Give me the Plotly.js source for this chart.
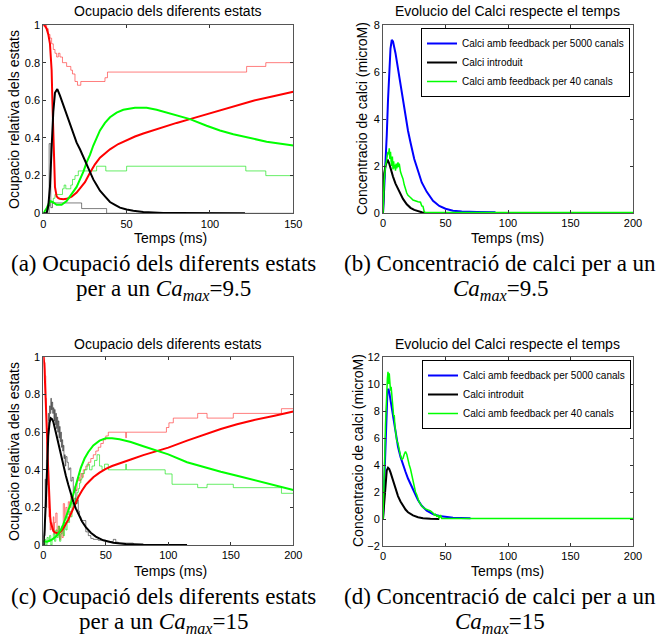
<!DOCTYPE html>
<html><head><meta charset="utf-8">
<script src="https://cdn.plot.ly/plotly-3.0.1.min.js"></script>
<style>html,body{margin:0;padding:0;background:#fff}#chart{width:670px;height:640px}</style>
</head><body><div id="chart"></div>
<script>
// ---------- (a) Ocupacio, Ca_max = 9.5 ----------
const aRedT = [0,1,2,3,4,5,5.5,6,6.5,7,8,9,10,12,14,17,20,22,25,28,31,34,37,40,45,50,55,60,66,72,80,88,95,105,115,126,138,150];
const aRedV = [1,0.995,0.98,0.95,0.9,0.76,0.58,0.38,0.22,0.14,0.09,0.08,0.077,0.075,0.077,0.088,0.11,0.13,0.165,0.215,0.26,0.295,0.32,0.34,0.368,0.39,0.408,0.424,0.442,0.46,0.48,0.5,0.518,0.545,0.572,0.598,0.622,0.645];
const aGreenT = [0,2,4,5.5,8,11,14,17,20,22,24,26,28,30,32,34,37,40,44,48,55,62,68,74,80,88,98,106,114,126,134,150];
const aGreenV = [0,0.027,0.065,0.06,0.045,0.045,0.065,0.1,0.14,0.18,0.22,0.27,0.31,0.36,0.4,0.44,0.48,0.51,0.535,0.55,0.56,0.56,0.55,0.535,0.52,0.5,0.465,0.44,0.42,0.395,0.38,0.36];
const aBlackT = [0,2,3,4,5,6,7,8.4,10,12,14,16,18,20,22,24,26,28,30,32,34,37,40,43,46,50,54,60,66,72,80,95,121];
const aBlackV = [0,0,0.04,0.14,0.35,0.54,0.64,0.66,0.625,0.575,0.52,0.465,0.415,0.375,0.34,0.3,0.26,0.22,0.18,0.15,0.12,0.09,0.06,0.045,0.03,0.02,0.013,0.007,0.004,0.002,0.001,0,0];
const aRedStepT = [0,2,3,4,5,6,7,8,9,10,11.5,14,16.5,17.5,19,20.5,22.5,37,38.5,122,133.5,150];
const aRedStepV = [1,0.98,0.95,0.93,0.9,0.87,0.85,0.83,0.85,0.83,0.8,0.78,0.76,0.74,0.7,0.68,0.7,0.72,0.75,0.78,0.8,0.8];
const aGreenStepT = [0,2,3,4,6,7,11.5,12.5,13.5,16.5,17.5,19,21,32,37.5,50,121.5,133.5,150];
const aGreenStepV = [0,0.02,0.04,0.06,0.08,0.1,0.13,0.15,0.13,0.15,0.18,0.2,0.225,0.25,0.225,0.25,0.225,0.2,0.2];
const aGrayStepT = [0,3.5,4.5,5.5,23,38,150];
const aGrayStepV = [0,0.37,0.03,0.055,0.025,0,0];

// ---------- (b) Calci, Ca_max = 9.5 ----------
const bBlueT = [0,1,2,3,4,5,6,7,8,10,12,14,16,18,20,22,25,28,31,35,40,45,50,56,63,75,90];
const bBlueV = [0,1.0,2.2,3.3,4.8,6.2,7.0,7.37,7.3,6.8,6.1,5.4,4.7,4.1,3.5,3.0,2.3,1.8,1.3,0.9,0.52,0.3,0.18,0.1,0.06,0.04,0.03];
const bBlackT = [0,0.4,1,2,3,3.7,5,6,8,10,13,16,19,22,25,28,31,34];
const bBlackV = [0,1.2,1.7,2.0,2.2,2.27,2.1,1.9,1.55,1.25,0.9,0.6,0.37,0.22,0.13,0.07,0.03,0];
const bGreenT = [0,0.5,1,2,3,4,4.5,5,5.5,6,6.5,7,7.5,8,8.5,9,9.5,10,10.5,11,12,12.5,13,13.5,14,15,16,17,18,19,20,21,22,24,26,28,30,31,32,33,34,200];
const bGreenV = [0,0.8,1.4,2.0,2.3,2.6,2.5,2.75,2.3,2.6,2.2,2.0,2.4,1.85,2.2,1.9,2.05,1.8,2.1,1.9,2.15,1.95,2.1,1.85,1.75,1.6,1.45,1.2,1.0,0.85,0.75,0.72,0.66,0.55,0.5,0.48,0.46,0.3,0.28,0.05,0.02,0.02];

// ---------- (c) Ocupacio, Ca_max = 15 ----------
const cRedT = [0,0.5,1,1.5,2,2.5,3,3.5,4,4.5,5,5.5,6,7,8,9,10,11,12,13,14,16,18,20,22,25,28,31,34,37,40,45,50,55,61,70,80,92,100,115,130,142,155,168,185,200];
const cRedV = [1,0.98,0.93,0.86,0.77,0.68,0.58,0.47,0.37,0.28,0.2,0.15,0.12,0.09,0.075,0.068,0.064,0.063,0.064,0.067,0.072,0.088,0.11,0.135,0.165,0.21,0.255,0.29,0.32,0.34,0.36,0.385,0.405,0.42,0.435,0.455,0.478,0.5,0.518,0.555,0.59,0.617,0.642,0.664,0.688,0.71];
const cGreenT = [0,3,6,8,10,12,14,16,18,20,22,24,26,28,30,33,36,40,45,50,55,61,70,80,92,100,115,130,142,155,168,185,200];
const cGreenV = [0.02,0.018,0.025,0.033,0.044,0.06,0.08,0.11,0.145,0.18,0.22,0.27,0.32,0.365,0.41,0.46,0.495,0.53,0.555,0.568,0.568,0.562,0.548,0.525,0.5,0.482,0.44,0.41,0.39,0.368,0.346,0.32,0.293];
const cBlackT = [0,1,2,3,4,5,6,7,8,10,12,14,16,18,20,22,24,26,28,31,34,38,42,48,56,66,80,95,115];
const cBlackV = [0,0.08,0.22,0.42,0.58,0.65,0.675,0.67,0.655,0.6,0.54,0.48,0.42,0.37,0.32,0.27,0.23,0.195,0.165,0.125,0.095,0.065,0.045,0.025,0.012,0.005,0.001,0,0];
const cGrayStepT = [0,1,1.5,2,2.5,3,3.5,4,4.5,5,5.5,6,6.5,7,7.5,8,8.5,9,9.5,10,10.5,11,11.5,12,12.5,13,13.5,14,14.5,15,15.5,16,16.5,17,17.5,18,19,20,21,22,23,24,25,26,27,28,29,30,32,34,36,38,40,44,50,56,58,60,66,72,80];
const cGrayStepV = [0,0.05,0.35,0.2,0.45,0.55,0.62,0.7,0.66,0.74,0.7,0.78,0.72,0.76,0.7,0.73,0.66,0.72,0.64,0.7,0.62,0.68,0.6,0.66,0.57,0.63,0.55,0.6,0.52,0.56,0.5,0.53,0.46,0.48,0.42,0.47,0.44,0.4,0.41,0.34,0.36,0.28,0.3,0.22,0.24,0.18,0.15,0.13,0.13,0.07,0.05,0.035,0.03,0.025,0.018,0.03,0.015,0.01,0.01,0.005,0];
const cRedStepT = [0,1,1.5,2,2.5,3,3.5,4,4.5,5,5.5,6,7,8,8.5,9,10,11,12,13,14,15,16,17,18,19,20,21,22,23,24,25,26,27,28,29,30,31,32,34,36,38,40,42,44,46,48,50,52,66,66.4,98.5,100.5,104,123.5,131,152,190.5,200];
const cRedStepV = [1,0.97,0.9,0.78,0.6,0.45,0.32,0.2,0.15,0.19,0.08,0.12,0.08,0.15,0.06,0.12,0.17,0.05,0.1,0.03,0.08,0.04,0.22,0.14,0.2,0.16,0.23,0.2,0.26,0.23,0.28,0.31,0.29,0.34,0.36,0.34,0.38,0.36,0.4,0.42,0.44,0.46,0.48,0.5,0.52,0.54,0.56,0.58,0.6,0.57,0.6,0.625,0.65,0.675,0.7,0.675,0.7,0.725,0.725];
const cGreenStepT = [0,1,2,3,4,5,6,7,8,9,10,11,12,13,14,15,16,17,18,19,20,21,22,23,24,25,26,27,28,29,30,31,33,35,37,39,41,43,45,47,49,52,66,66.4,97.5,103,123.5,131,152,190.5,200];
const cGreenStepV = [0,0.03,0,0.04,0.02,0.05,0,0.03,0.06,0.02,0.08,0.04,0.1,0.02,0.06,0.1,0.05,0.12,0.08,0.15,0.12,0.18,0.15,0.22,0.2,0.25,0.22,0.28,0.3,0.33,0.35,0.38,0.4,0.43,0.4,0.42,0.45,0.48,0.42,0.4,0.43,0.4,0.43,0.4,0.378,0.323,0.305,0.323,0.305,0.275,0.275];

// ---------- (d) Calci, Ca_max = 15 ----------
const dBlueT = [0,0.5,1,1.5,2,2.5,3,3.5,4,4.5,5,6,7,8,9,10,11,12,14,16,18,20,22,25,28,31,35,40,45,50,56,62,70];
const dBlueV = [0,1.5,3.2,5,6.6,7.9,8.8,9.35,9.6,9.6,9.4,8.8,8.1,7.5,6.9,6.3,5.8,5.35,4.6,4.0,3.5,3.0,2.55,2.0,1.4,0.98,0.62,0.36,0.22,0.15,0.1,0.08,0.06];
const dBlackT = [0,1,2,3,4,5,6,8,10,12,14,16,18,20,24,28,32,38,45];
const dBlackV = [0,1.5,2.8,3.6,3.8,3.7,3.45,2.85,2.25,1.7,1.3,0.95,0.7,0.5,0.27,0.13,0.06,0.02,0];
const dGreenT = [0,0.5,1,1.5,2,2.5,3,3.5,4,4.5,5,5.5,6,6.5,7,7.5,8,8.5,9,9.5,10,11,12,13,14,15,16,17,18,19,20,21,22,23,24,25,26,27,28,29,30,32,34,36,38,40,41,42,43,44,45,46,47,50,200];
const dGreenV = [0,1.2,3.0,5.0,7.0,8.5,9.6,10.4,10.9,10.0,10.8,10.2,9.5,9.8,9.0,8.6,8.2,7.6,7.7,6.9,6.5,5.8,5.6,5.0,4.7,4.4,4.5,4.8,5.0,4.8,4.3,4.0,3.7,3.2,2.7,2.3,2.0,1.8,1.5,1.25,1.1,0.85,0.75,0.7,0.6,0.45,0.3,0.35,0.2,0.25,0.05,0.3,0.03,0.03,0.03];

// ---------- text ----------
const legendNames = ['Calci amb feedback per 5000 canals','Calci introduit','Calci amb feedback per 40 canals'];
const titleOcup = 'Ocupacio dels diferents estats';
const titleCalci = 'Evolucio del Calci respecte el temps';
const xTitle = 'Temps (ms)';
const yTitleOcup = 'Ocupacio relativa dels estats';
const yTitleCalci = 'Concentracio de calci (microM)';
const captions = [
  ['(a) Ocupació dels diferents estats', 'per a un <i>Ca</i><sub><i>max</i></sub>=9.5'],
  ['(b) Concentració de calci per a un', '<i>Ca</i><sub><i>max</i></sub>=9.5'],
  ['(c) Ocupació dels diferents estats', 'per a un <i>Ca</i><sub><i>max</i></sub>=15'],
  ['(d) Concentració de calci per a un', '<i>Ca</i><sub><i>max</i></sub>=15']
];

// ---------- build ----------
const W = 670, H = 640;
function ln(x, y, xa, ya, color, width, extra) {
  return Object.assign({type:'scatter', mode:'lines', x:x, y:y, xaxis:xa, yaxis:ya,
    line:{color:color, width:width}, showlegend:false, hoverinfo:'skip'}, extra || {});
}
const stepRed = 'rgba(255,40,40,0.6)', stepGreen = 'rgba(0,225,0,0.6)', stepGray = 'rgba(0,0,0,0.5)';
function step(x, y, xa, ya, color) { return ln(x, y, xa, ya, color, 1, {line:{color:color, width:1, shape:'hv'}}); }
const traces = [
  step(aRedStepT, aRedStepV, 'x', 'y', stepRed),
  step(aGreenStepT, aGreenStepV, 'x', 'y', stepGreen),
  step(aGrayStepT, aGrayStepV, 'x', 'y', stepGray),
  ln(aRedT, aRedV, 'x', 'y', '#ff0000', 2),
  ln(aGreenT, aGreenV, 'x', 'y', '#00ff00', 2),
  ln(aBlackT, aBlackV, 'x', 'y', '#000000', 2),

  ln(bBlueT, bBlueV, 'x2', 'y2', '#0000ff', 2, {name:legendNames[0], showlegend:true, legend:'legend'}),
  ln(bBlackT, bBlackV, 'x2', 'y2', '#000000', 2, {name:legendNames[1], showlegend:true, legend:'legend'}),
  ln(bGreenT, bGreenV, 'x2', 'y2', '#00ff00', 1.5, {name:legendNames[2], showlegend:true, legend:'legend'}),

  step(cRedStepT, cRedStepV, 'x3', 'y3', stepRed),
  step(cGreenStepT, cGreenStepV, 'x3', 'y3', stepGreen),
  step(cGrayStepT, cGrayStepV, 'x3', 'y3', stepGray),
  ln(cRedT, cRedV, 'x3', 'y3', '#ff0000', 2),
  ln(cGreenT, cGreenV, 'x3', 'y3', '#00ff00', 2),
  ln(cBlackT, cBlackV, 'x3', 'y3', '#000000', 2),

  ln(dBlueT, dBlueV, 'x4', 'y4', '#0000ff', 2, {name:legendNames[0], showlegend:true, legend:'legend2'}),
  ln(dBlackT, dBlackV, 'x4', 'y4', '#000000', 2, {name:legendNames[1], showlegend:true, legend:'legend2'}),
  ln(dGreenT, dGreenV, 'x4', 'y4', '#00ff00', 1.5, {name:legendNames[2], showlegend:true, legend:'legend2'})
];

const SANS = 'Liberation Sans, Arial, Helvetica, sans-serif';
const SERIF = 'Liberation Serif, Times New Roman, serif';
function px(x){return x/W;} function py(y){return 1-y/H;}
function axis(x0, x1, range, dtick, anchor, vertical) {
  const dom = vertical ? [py(x1), py(x0)] : [px(x0), px(x1)];
  return {domain:dom, range:range, dtick:dtick, tick0:0, anchor:anchor,
    ticks:'inside', ticklen:3, tickwidth:1, tickcolor:'#333',
    showline:true, linecolor:'#555', linewidth:1, mirror:'ticks',
    showgrid:false, zeroline:false, fixedrange:true,
    tickfont:{family:SANS, size:11, color:'#000'}};
}
const LX = [43.3, 293.3], RX = [383, 633];
const layout = {
  width:W, height:H, margin:{l:0,r:0,t:0,b:0}, autosize:false,
  paper_bgcolor:'#fff', plot_bgcolor:'#fff',
  font:{family:SANS, size:11, color:'#000'},
  xaxis: axis(LX[0], LX[1], [0,150], 50, 'y'),
  yaxis: axis(25, 213.3, [0,1], 0.2, 'x', true),
  xaxis2: axis(RX[0], RX[1], [0,200], 50, 'y2'),
  yaxis2: axis(25, 213, [0,8], 2, 'x2', true),
  xaxis3: axis(LX[0], LX[1], [0,200], 50, 'y3'),
  yaxis3: axis(357, 545, [0,1], 0.2, 'x3', true),
  xaxis4: axis(RX[0], RX[1], [0,200], 50, 'y4'),
  yaxis4: axis(357, 546, [-2,12], 2, 'x4', true),
  legend: {x:px(630), y:py(28), xanchor:'right', yanchor:'top', bgcolor:'#fff', bordercolor:'#000', borderwidth:1,
    font:{family:SANS, size:10, color:'#000'}, tracegroupgap:0},
  legend2: {x:px(631), y:py(360), xanchor:'right', yanchor:'top', bgcolor:'#fff', bordercolor:'#000', borderwidth:1,
    font:{family:SANS, size:10, color:'#000'}, tracegroupgap:0},
  annotations: []
};
function note(text, x, y, size, family, extra) {
  layout.annotations.push(Object.assign({text:text, x:px(x), y:py(y), xref:'paper', yref:'paper',
    xanchor:'center', yanchor:'middle', showarrow:false, font:{family:family, size:size, color:'#000'}}, extra || {}));
}
// subplot titles
note(titleOcup, 168, 11.5, 14, SANS);
note(titleCalci, 508, 11.5, 14, SANS);
note(titleOcup, 168, 343.5, 14, SANS);
note(titleCalci, 508, 343.5, 14, SANS);
// axis titles
note(xTitle, 170, 237.5, 14, SANS);
note(xTitle, 507, 237.5, 14, SANS);
note(xTitle, 170, 570.5, 14, SANS);
note(xTitle, 507, 570.5, 14, SANS);
note(yTitleOcup, 14, 120, 14, SANS, {textangle:-90});
note(yTitleCalci, 362, 119, 14, SANS, {textangle:-90});
note(yTitleOcup, 14, 452, 14, SANS, {textangle:-90});
note(yTitleCalci, 358, 451, 14, SANS, {textangle:-90});
// captions
note(captions[0][0], 163, 263, 23, SERIF);
note(captions[0][1], 163, 290, 23, SERIF);
note(captions[1][0], 500, 263, 23, SERIF);
note(captions[1][1], 500, 290, 23, SERIF);
note(captions[2][0], 163, 596, 23, SERIF);
note(captions[2][1], 163, 623, 23, SERIF);
note(captions[3][0], 500, 596, 23, SERIF);
note(captions[3][1], 500, 623, 23, SERIF);

Plotly.newPlot('chart', traces, layout, {staticPlot:true, displayModeBar:false});
</script></body></html>
